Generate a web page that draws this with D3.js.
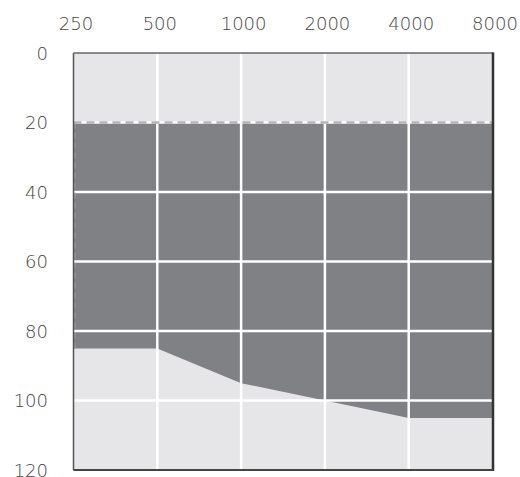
<!DOCTYPE html>
<html><head><meta charset="utf-8">
<script src="https://cdn.jsdelivr.net/npm/d3@7"></script>
<style>body{margin:0;background:#fff}svg{display:block}</style>
</head><body>
<svg id="c" width="520" height="477"></svg>
<script>
const frequencies = [250, 500, 1000, 2000, 4000, 8000];
const thresholds = [85, 85, 95, 100, 105, 105];
const normalLimit = 20;
const yTicks = [0, 20, 40, 60, 80, 100, 120];
const xTickLabels = ["250", "500", "1000", "2000", "4000", "8000"];

const svg = d3.select("#c");
const L = 73.5, R = 492.5, T = 53, B = 470;
const x = d3.scaleLog().base(2).domain([250, 8000]).range([L, R]);
const y = d3.scaleLinear().domain([0, 120]).range([T, B]);

svg.append("rect").attr("x", L).attr("y", T).attr("width", R - L).attr("height", B - T).attr("fill", "#e6e6e8");

const pts = frequencies.map((f, i) => ({f, t: thresholds[i]}));
const area = d3.area().x(d => x(d.f)).y0(y(normalLimit)).y1(d => y(d.t));
svg.append("path").datum(pts).attr("d", area).attr("fill", "#808184");

const g = svg.append("g");
g.selectAll(".vg").data(frequencies.slice(1, -1)).join("line")
  .attr("x1", d => x(d)).attr("x2", d => x(d)).attr("y1", T).attr("y2", B)
  .attr("stroke", "#fff").attr("stroke-width", 2.5);
g.selectAll(".hg").data(yTicks.slice(1, -1)).join("line")
  .attr("x1", L).attr("x2", R).attr("y1", d => y(d)).attr("y2", d => y(d))
  .attr("stroke", "#fff").attr("stroke-width", 2.5);

svg.append("line").attr("x1", L).attr("x2", R).attr("y1", y(normalLimit)).attr("y2", y(normalLimit))
  .attr("stroke", "#b4b4b6").attr("stroke-width", 2.5).attr("stroke-dasharray", "8,5");

svg.append("line").attr("x1", L + 1.5).attr("x2", L + 1.5).attr("y1", y(normalLimit)).attr("y2", y(thresholds[0]))
  .attr("stroke", "#a0a0a2").attr("stroke-width", 1).attr("stroke-dasharray", "6,4");

svg.append("line").attr("x1", L).attr("x2", L).attr("y1", T).attr("y2", B).attr("stroke", "#555").attr("stroke-width", 1.5);
svg.append("line").attr("x1", L).attr("x2", R + 1).attr("y1", T).attr("y2", T).attr("stroke", "#666").attr("stroke-width", 1.5);
svg.append("line").attr("x1", R + 0.5).attr("x2", R + 0.5).attr("y1", T - 0.5).attr("y2", B + 1).attr("stroke", "#333").attr("stroke-width", 2.5);
svg.append("line").attr("x1", L).attr("x2", R + 1).attr("y1", B).attr("y2", B).attr("stroke", "#444").attr("stroke-width", 2);

const font = "'DejaVu Sans', sans-serif";
const xAxis = d3.axisTop(x).tickValues(frequencies).tickFormat((d, i) => xTickLabels[i]).tickSize(0).tickPadding(0);
const xa = svg.append("g").attr("transform", "translate(2,30)").call(xAxis);
xa.select(".domain").remove();
xa.selectAll("text").attr("font-family", font).attr("font-weight", 200).attr("font-size", 18)
  .attr("fill", "#444").attr("dy", 0);

const yAxis = d3.axisLeft(y).tickValues(yTicks).tickSize(0).tickPadding(0);
const ya = svg.append("g").attr("transform", "translate(48,0)").call(yAxis);
ya.select(".domain").remove();
ya.selectAll("text").attr("font-family", font).attr("font-weight", 200).attr("font-size", 18)
  .attr("fill", "#444").attr("dy", "0.35em");
</script>
</body></html>
